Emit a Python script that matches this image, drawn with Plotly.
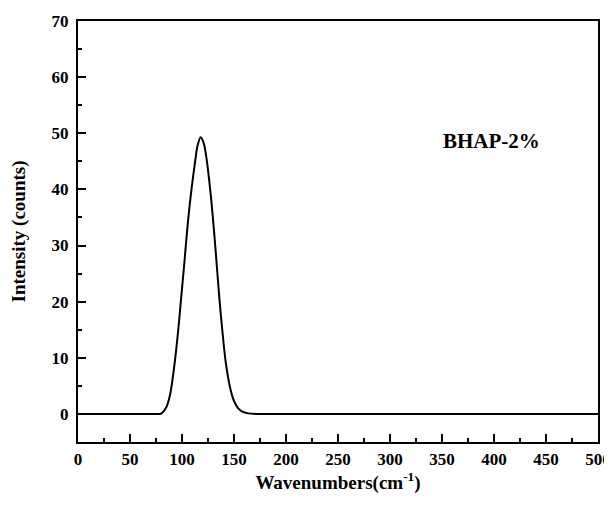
import plotly.graph_objects as go

# Data
wavenumber = [0, 40, 70, 78, 80.4, 82.5, 85.2, 87.5, 89.4, 92.9, 96.4, 99.3, 102.2, 105.0, 108.3,
              112.4, 115.0, 117.9, 120.8, 123.5, 127.8, 130.7, 133.3, 135.8, 138.7, 142.2,
              146.7, 150.0, 154.1, 158.0, 163.7, 172, 185, 250, 350, 500]
intensity = [0, 0, 0, 0, 0.1, 0.5, 1.3, 2.6, 4.3, 9.0, 15.0, 20.9, 26.8, 32.8, 38.7,
             44.7, 47.8, 49.3, 48.3, 45.6, 38.7, 32.8, 26.8, 20.9, 15.0, 9.0,
             4.3, 2.3, 1.0, 0.4, 0.1, 0, 0, 0, 0, 0]
x_ticks = [0, 50, 100, 150, 200, 250, 300, 350, 400, 450, 500]
y_ticks = [0, 10, 20, 30, 40, 50, 60, 70]
label_text = "BHAP-2%"

FONT = "Liberation Serif, Times New Roman, serif"

fig = go.Figure()
fig.add_trace(go.Scatter(
    x=wavenumber, y=intensity, mode="lines",
    line=dict(color="black", width=2, shape="spline", smoothing=0.9),
    showlegend=False, hoverinfo="skip"))

fig.add_annotation(x=398, y=48.6, xref="x", yref="y", text=f"<b>{label_text}</b>",
                   showarrow=False, font=dict(family=FONT, size=21, color="black"))

axis_common = dict(
    showgrid=False, zeroline=False, showline=True, linecolor="black", linewidth=2,
    mirror=True, ticks="inside", ticklen=8, tickwidth=2, tickcolor="black",
    automargin=False,
    tickfont=dict(family=FONT, size=17, color="black", weight="bold"),
)

# page body has an 8px default margin, so the figure is sized to fit inside it
fig.update_layout(
    width=604, height=497,
    margin=dict(l=70, r=14, t=13, b=63),
    paper_bgcolor="white", plot_bgcolor="white",
    xaxis=dict(range=[0, 500], tickvals=x_ticks, ticklabelstandoff=1,
               minor=dict(ticks="inside", ticklen=4, tickwidth=2, tickcolor="black", dtick=25, tick0=0),
               title=dict(text="<b>Wavenumbers(cm<sup>-1</sup>)</b>",
                          font=dict(family=FONT, size=19, color="black"), standoff=2),
               **axis_common),
    yaxis=dict(range=[-5, 70], tickvals=y_ticks, ticklabelstandoff=4,
               minor=dict(ticks="inside", ticklen=4, tickwidth=2, tickcolor="black", dtick=5, tick0=0),
               title=dict(text="<b>Intensity (counts)</b>",
                          font=dict(family=FONT, size=19, color="black"), standoff=22),
               **axis_common),
)

fig.write_html("out.html")
